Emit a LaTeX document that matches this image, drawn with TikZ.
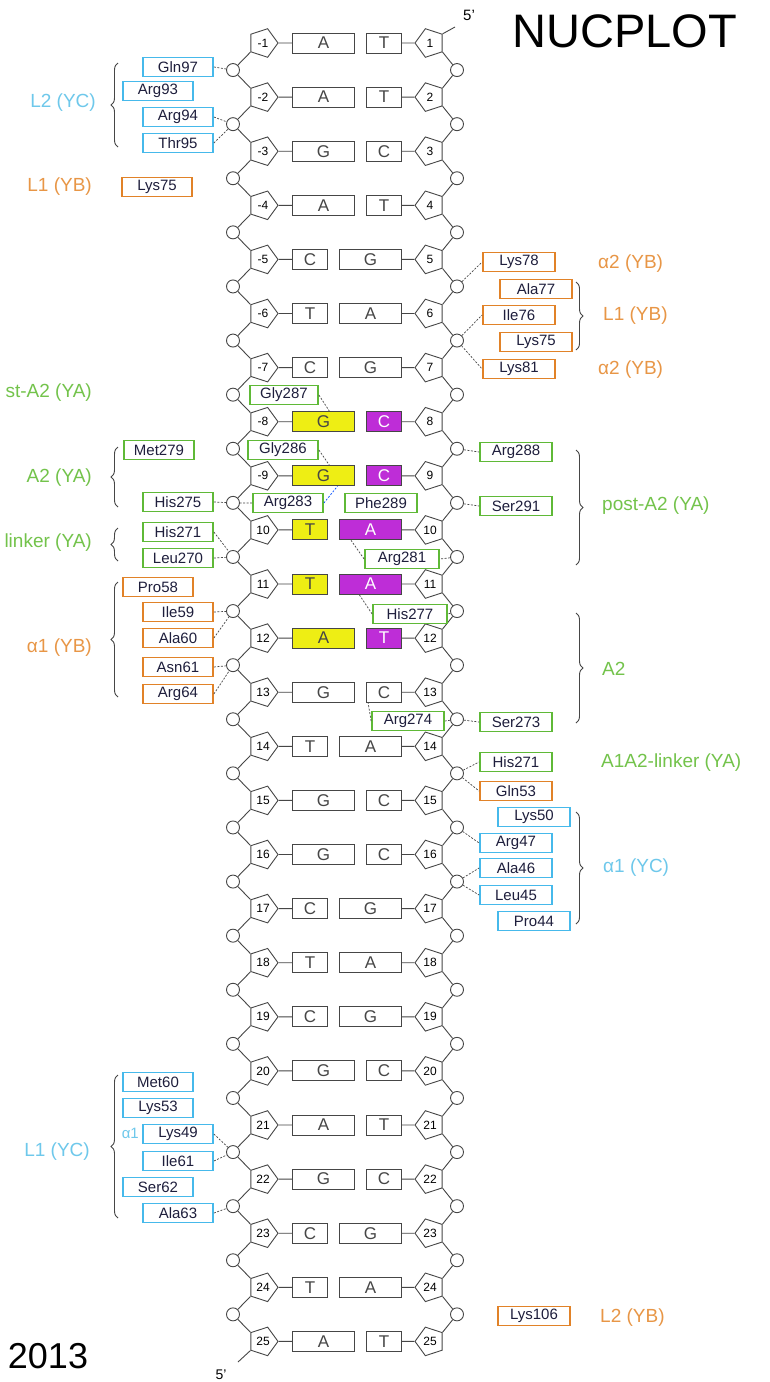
\documentclass[tikz,border=0pt]{standalone}
\usepackage{fontspec}
\setmainfont{Liberation Sans}
\usetikzlibrary{shapes.geometric,decorations.pathreplacing}
\newcommand\fsz[1]{\fontsize{#1}{#1}\selectfont}
\definecolor{cyanB}{RGB}{70,185,235}
\definecolor{cyanT}{RGB}{110,200,235}
\definecolor{orgB}{RGB}{225,130,40}
\definecolor{orgT}{RGB}{232,150,70}
\definecolor{grnB}{RGB}{95,185,55}
\definecolor{grnT}{RGB}{115,195,75}
\definecolor{yelF}{RGB}{238,238,20}
\definecolor{magF}{RGB}{190,45,215}
\definecolor{ink}{RGB}{70,70,70}
\definecolor{resT}{RGB}{30,30,60}
\begin{document}
\begin{tikzpicture}[x=1pt,y=-1pt,
  pentL/.style={regular polygon,regular polygon sides=5,shape border rotate=-90,draw=ink,line width=0.9pt,fill=white,minimum size=30pt,inner sep=0pt,font=\fsz{12}},
  pentR/.style={pentL,shape border rotate=90},
  phos/.style={circle,draw=ink,line width=0.9pt,fill=white,minimum size=13pt,inner sep=0pt},
  nucbox/.style={rectangle,draw=ink,line width=0.9pt,minimum height=20pt,inner sep=0pt,font=\fsz{17},text=ink},
  bbn/.style={draw=ink,line width=0.9pt},
  resbox/.style={rectangle,line width=1.8pt,minimum width=70pt,minimum height=19pt,inner sep=0pt,fill=white,font=\fsz{15},text=resT},
  rc/.style={resbox,draw=cyanB},
  ro/.style={resbox,draw=orgB},
  rg/.style={resbox,draw=grnB},
  hb/.style={draw=ink,line width=0.7pt,dash pattern=on 2pt off 1.5pt},
  hbb/.style={hb,draw=blue!70!cyan},
  brc/.style={decorate,decoration={brace,amplitude=7pt},draw=ink,line width=0.9pt},
  lbl/.style={font=\fsz{19},inner sep=0pt},
  lblc/.style={lbl,text=cyanT},
  lblo/.style={lbl,text=orgT},
  lblg/.style={lbl,text=grnT}
]
\fill[white] (0,0) rectangle (769,1382);
\useasboundingbox (0,0) rectangle (769,1382);

% ---------- base pairs ----------
\foreach \k/\lab/\a/\b/\wa/\wb/\fa/\fb/\tb in {
 1/-1/A/T/62/35/white/white/ink,
 2/-2/A/T/62/35/white/white/ink,
 3/-3/G/C/62/35/white/white/ink,
 4/-4/A/T/62/35/white/white/ink,
 5/-5/C/G/35/62/white/white/ink,
 6/-6/T/A/35/62/white/white/ink,
 7/-7/C/G/35/62/white/white/ink,
 8/-8/G/C/62/35/yelF/magF/white,
 9/-9/G/C/62/35/yelF/magF/white,
 10/10/T/A/35/62/yelF/magF/white,
 11/11/T/A/35/62/yelF/magF/white,
 12/12/A/T/62/35/yelF/magF/white,
 13/13/G/C/62/35/white/white/ink,
 14/14/T/A/35/62/white/white/ink,
 15/15/G/C/62/35/white/white/ink,
 16/16/G/C/62/35/white/white/ink,
 17/17/C/G/35/62/white/white/ink,
 18/18/T/A/35/62/white/white/ink,
 19/19/C/G/35/62/white/white/ink,
 20/20/G/C/62/35/white/white/ink,
 21/21/A/T/62/35/white/white/ink,
 22/22/G/C/62/35/white/white/ink,
 23/23/C/G/35/62/white/white/ink,
 24/24/T/A/35/62/white/white/ink,
 25/25/A/T/62/35/white/white/ink}{
  \pgfmathsetmacro\yy{43+(\k-1)*54.1}
  \node[pentL] (pL\k) at (263,\yy) {\lab};
  \node[pentR] (pR\k) at (430,\yy) {\k};
  \node[nucbox,minimum width=\wa,fill=\fa,anchor=west] (bL\k) at (292,\yy) {\a};
  \node[nucbox,minimum width=\wb,fill=\fb,text=\tb,anchor=east] (bR\k) at (402,\yy) {\b};
  \draw[bbn] (pL\k.east) -- (bL\k.west);
  \draw[bbn] (bR\k.east) -- (pR\k.west);
}
% ---------- phosphates and backbone ----------
\foreach \k in {1,...,24}{
  \pgfmathsetmacro\yy{43+(\k-1)*54.1+27.05}
  \node[phos] (cL\k) at (233,\yy) {};
  \node[phos] (cR\k) at (457,\yy) {};
}
\foreach \k in {1,...,24}{
  \pgfmathtruncatemacro\kk{\k+1}
  \draw[bbn] (pL\k.216) -- (cL\k) -- (pL\kk.144);
  \draw[bbn] (pR\k.324) -- (cR\k) -- (pR\kk.36);
}
\coordinate (topend) at (455,27);
\coordinate (botend) at (238,1362);
\draw[bbn] (pR1.36) -- (topend);
\draw[bbn] (pL25.216) -- (botend);
\node[font=\fsz{15}] (fiveT) at (469,15) {5'};
\node[font=\fsz{14}] (fiveB) at (221,1375) {5'};

% ---------- titles ----------
\node[font=\fsz{47}] (title) at (625,31) {NUCPLOT};
\node[font=\fsz{36}] (year) at (48,1356) {2013};

% ---------- residues: left ----------
\node[rc] (Gln97) at (178,67) {Gln97};
\node[rc] (Arg93) at (158,91) {Arg93};
\node[rc] (Arg94) at (178,117) {Arg94};
\node[rc] (Thr95) at (178,143) {Thr95};
\node[ro] (Lys75a) at (157,187) {Lys75};
\node[rg] (Met279) at (159,450) {Met279};
\node[rg] (His275) at (178,502) {His275};
\node[rg] (His271a) at (178,532) {His271};
\node[rg] (Leu270) at (178,558) {Leu270};
\node[ro] (Pro58) at (158,587) {Pro58};
\node[ro] (Ile59) at (178,612) {Ile59};
\node[ro] (Ala60) at (178,638) {Ala60};
\node[ro] (Asn61) at (178,667) {Asn61};
\node[ro] (Arg64) at (178,694) {Arg64};
\node[rc] (Met60) at (158,1082) {Met60};
\node[rc] (Lys53) at (158,1108) {Lys53};
\node[rc] (Lys49) at (178,1134) {Lys49};
\node[rc] (Ile61) at (178,1161) {Ile61};
\node[rc] (Ser62) at (158,1187) {Ser62};
\node[rc] (Ala63) at (178,1213) {Ala63};

% ---------- residues: middle ----------
\node[rg,minimum width=68pt] (Gly287) at (284,395) {Gly287};
\node[rg] (Gly286) at (283,450) {Gly286};
\node[rg] (Arg283) at (288,503) {Arg283};
\node[rg,minimum width=72pt] (Phe289) at (381,503) {Phe289};
\node[rg,minimum width=74pt] (Arg281) at (402,559) {Arg281};
\node[rg,minimum width=74pt] (His277) at (410,614) {His277};
\node[rg,minimum width=72pt] (Arg274) at (408,721) {Arg274};

% ---------- residues: right ----------
\node[ro,minimum width=72pt] (Lys78) at (519,262) {Lys78};
\node[ro,minimum width=72pt] (Ala77) at (536,289) {Ala77};
\node[ro,minimum width=72pt] (Ile76) at (519,315) {Ile76};
\node[ro,minimum width=72pt] (Lys75b) at (536,342) {Lys75};
\node[ro,minimum width=72pt] (Lys81) at (519,369) {Lys81};
\node[rg,minimum width=72pt] (Arg288) at (516,452) {Arg288};
\node[rg,minimum width=72pt] (Ser291) at (516,506) {Ser291};
\node[rg,minimum width=72pt] (Ser273) at (516,722) {Ser273};
\node[rg,minimum width=72pt] (His271b) at (516,762) {His271};
\node[ro,minimum width=72pt] (Gln53) at (516,791) {Gln53};
\node[rc,minimum width=72pt] (Lys50) at (534,817) {Lys50};
\node[rc,minimum width=72pt] (Arg47) at (516,843) {Arg47};
\node[rc,minimum width=72pt] (Ala46) at (516,868) {Ala46};
\node[rc,minimum width=72pt] (Leu45) at (516,895) {Leu45};
\node[rc,minimum width=72pt] (Pro44) at (534,921) {Pro44};
\node[ro,minimum width=72pt] (Lys106) at (534,1316) {Lys106};

% ---------- contacts ----------
\draw[hb] (Gln97.east) -- (cL1);
\draw[hb] (Arg94.east) -- (cL2);
\draw[hb] (Thr95.east) -- (cL2);
\draw[hb] (Gly287.east) -- ([xshift=6pt]bL8.north);
\draw[hb] (Gly286.east) -- ([xshift=6pt]bL9.north);
\draw[hb] (His275.east) -- (cL9);
\draw[hb] (Arg283.west) -- (cL9);
\draw[hbb] (Arg283.east) -- ([xshift=14pt]bL9.south);
\draw[hb] (His271a.east) -- (cL10);
\draw[hb] (Leu270.east) -- (cL10);
\draw[hb] (Ile59.east) -- (cL11);
\draw[hb] (Ala60.east) -- (cL11);
\draw[hb] (Asn61.east) -- (cL12);
\draw[hb] (Arg64.east) -- (cL12);
\draw[hb] (Lys49.east) -- (cL21);
\draw[hb] (Ile61.east) -- (cL21);
\draw[hb] (Ala63.east) -- (cL22);
\draw[hb] (cR5) -- (Lys78.west);
\draw[hb] (cR6) -- (Ile76.west);
\draw[hb] (cR6) -- (Lys81.west);
\draw[hb] (cR8) -- (Arg288.west);
\draw[hb] (cR9) -- (Ser291.west);
\draw[hb] (cR10) -- (Arg281.east);
\draw[hb] (Arg281.west) -- ([xshift=12pt]bR10.south west);
\draw[hb] (cR11) -- (His277.east);
\draw[hb] (His277.west) -- ([xshift=20pt]bR11.south west);
\draw[hb] (cR13) -- (Arg274.east);
\draw[hb] (cR13) -- (Ser273.west);
\draw[hb] (Arg274.west) -- ([xshift=2pt]bR13.south west);
\draw[hb] (cR14) -- (His271b.west);
\draw[hb] (cR14) -- (Gln53.west);
\draw[hb] (cR15) -- (Arg47.west);
\draw[hb] (cR16) -- (Ala46.west);
\draw[hb] (cR16) -- (Leu45.west);

% ---------- braces ----------
\draw[brc] (118,147) -- (118,63);
\draw[brc] (118,507) -- (118,447);
\draw[brc] (118,561) -- (118,528);
\draw[brc] (118,697) -- (118,582);
\draw[brc] (118,1218) -- (118,1075);
\draw[brc] (576,282) -- (576,350);
\draw[brc] (576,450) -- (576,565);
\draw[brc] (576,613) -- (576,723);
\draw[brc] (576,812) -- (576,924);

% ---------- group labels ----------
\node[lblg,anchor=east] (lpostA2) at (92,393) {st-A2 (YA)};
\node[lblc,anchor=east] (lL2YC) at (96,103) {L2 (YC)};
\node[lblo,anchor=east] (lL1YB) at (92,187) {L1 (YB)};
\node[lblg,anchor=east] (lA2YA) at (92,478) {A2 (YA)};
\node[lblg,anchor=east] (lA1A2) at (92,543) {linker (YA)};
\node[lblo,anchor=east] (la1YB) at (92,648) {α1 (YB)};
\node[lblc,anchor=east] (lL1YC) at (90,1152) {L1 (YC)};
\node[lblc,anchor=east,font=\fsz{15}] (la1s) at (139,1133) {α1};
\node[lblo,anchor=west] (ra2a) at (598,264) {α2 (YB)};
\node[lblo,anchor=west] (rL1YB) at (603,316) {L1 (YB)};
\node[lblo,anchor=west] (ra2b) at (598,370) {α2 (YB)};
\node[lblg,anchor=west] (rpostA2) at (602,506) {post-A2 (YA)};
\node[lblg,anchor=west] (rA2) at (602,669) {A2};
\node[lblg,anchor=west] (rA1A2) at (601,763) {A1A2-linker (YA)};
\node[lblc,anchor=west] (ra1YC) at (603,868) {α1 (YC)};
\node[lblo,anchor=west] (rL2YB) at (600,1318) {L2 (YB)};
\end{tikzpicture}
\end{document}
